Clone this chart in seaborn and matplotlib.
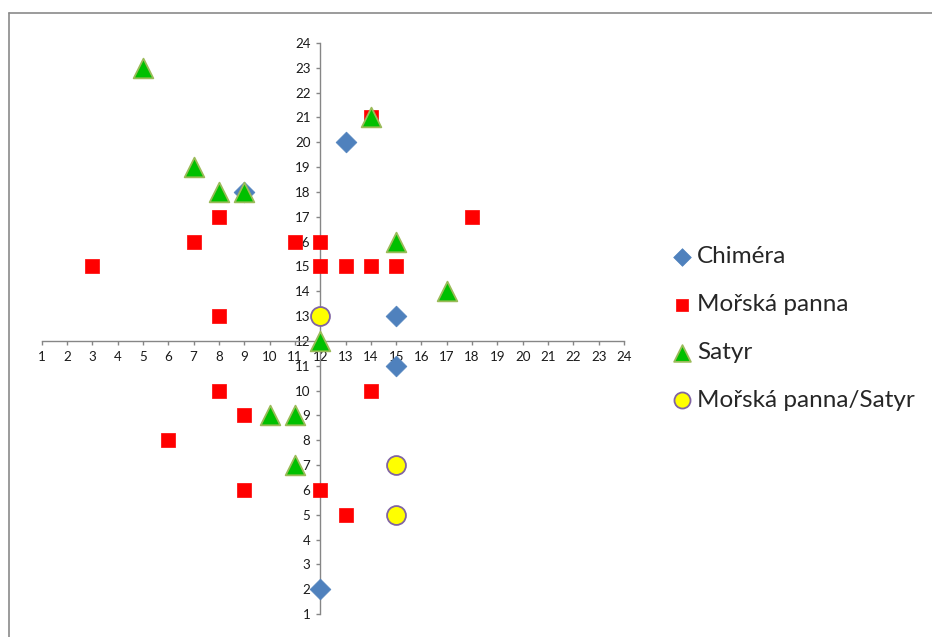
import matplotlib
matplotlib.use("Agg")
import matplotlib.pyplot as plt
from matplotlib.lines import Line2D
import seaborn as sns
import pandas as pd

# ---- data ----
chimera_x = [9, 13, 15, 15, 12]
chimera_y = [18, 20, 13, 11, 2]

panna_x = [3, 7, 8, 8, 11, 12, 12, 13, 14, 15, 14, 18, 8, 9, 6, 9, 12, 13, 14]
panna_y = [15, 16, 17, 13, 16, 16, 15, 15, 15, 15, 21, 17, 10, 9, 8, 6, 6, 5, 10]

satyr_x = [5, 7, 8, 9, 14, 15, 17, 12, 10, 11, 11]
satyr_y = [23, 19, 18, 18, 21, 16, 14, 12, 9, 9, 7]

mix_x = [12, 15, 15]
mix_y = [13, 7, 5]

series_names = ["Chiméra", "Mořská panna", "Satyr", "Mořská panna/Satyr"]
ticks = list(range(1, 25))

sns.set_theme(style="white")
plt.rcParams['font.family'] = ['Lato', 'DejaVu Sans']

W, H = 932, 637
fig = plt.figure(figsize=(W / 100, H / 100), dpi=100)
x0, x1 = 41.7, 624.0
ytop, ybot = 43.0, 614.0
ax = fig.add_axes([x0 / W, 1 - ybot / H, (x1 - x0) / W, (ybot - ytop) / H])

styles = [
    dict(marker="D", s=112, color="#4F81BD", edgecolor="#4F81BD", linewidth=0.5),
    dict(marker="s", s=100, color="#FF0000", edgecolor="#FF0000", linewidth=0.5),
    dict(marker="^", s=200, color="#00C000", edgecolor="#9BBB59", linewidth=1.3),
    dict(marker="o", s=185, color="#FFFF00", edgecolor="#8064A2", linewidth=1.3),
]
data = [(chimera_x, chimera_y), (panna_x, panna_y), (satyr_x, satyr_y), (mix_x, mix_y)]

for (xs, ys), name, st in zip(data, series_names, styles):
    df = pd.DataFrame({"x": xs, "y": ys})
    sns.scatterplot(data=df, x="x", y="y", ax=ax, label=name, zorder=3,
                    clip_on=False, **st)

ax.set_xlim(1, 24)
ax.set_ylim(1, 24)
ax.set_xticks(ticks)
ax.set_yticks(ticks)
ax.set_xlabel("")
ax.set_ylabel("")

axis_col = "#868686"
for side in ["top", "right"]:
    ax.spines[side].set_visible(False)
ax.spines["left"].set_position(("data", 12))
ax.spines["bottom"].set_position(("data", 12))
for side in ["left", "bottom"]:
    ax.spines[side].set_color(axis_col)
    ax.spines[side].set_linewidth(1.0)
    ax.spines[side].set_zorder(2)
ax.tick_params(axis="both", direction="out", length=3.0, width=1.0,
               color=axis_col, labelsize=9.6, labelcolor="#1a1a1a", pad=4.0)
ax.tick_params(axis="x", bottom=True)
ax.tick_params(axis="y", left=True)
ax.grid(False)
ax.set_facecolor("none")

fs = 17.5
leg = ax.legend(loc="center left", bbox_to_anchor=(669.9 / W, 1 - 328.5 / H),
                bbox_transform=fig.transFigure, frameon=False, fontsize=fs,
                handlelength=1.0, handletextpad=0.12, labelspacing=1.10,
                borderpad=0, borderaxespad=0, markerscale=0.85)

# chart border (top and left edges visible)
fig.add_artist(Line2D([8.5 / W, 1.0], [1 - 12.5 / H, 1 - 12.5 / H],
                      transform=fig.transFigure, color="#8a8a8a", linewidth=1.2))
fig.add_artist(Line2D([8.5 / W, 8.5 / W], [0.0, 1 - 12.5 / H],
                      transform=fig.transFigure, color="#8a8a8a", linewidth=1.2))

fig.savefig("out.png", dpi=100)
